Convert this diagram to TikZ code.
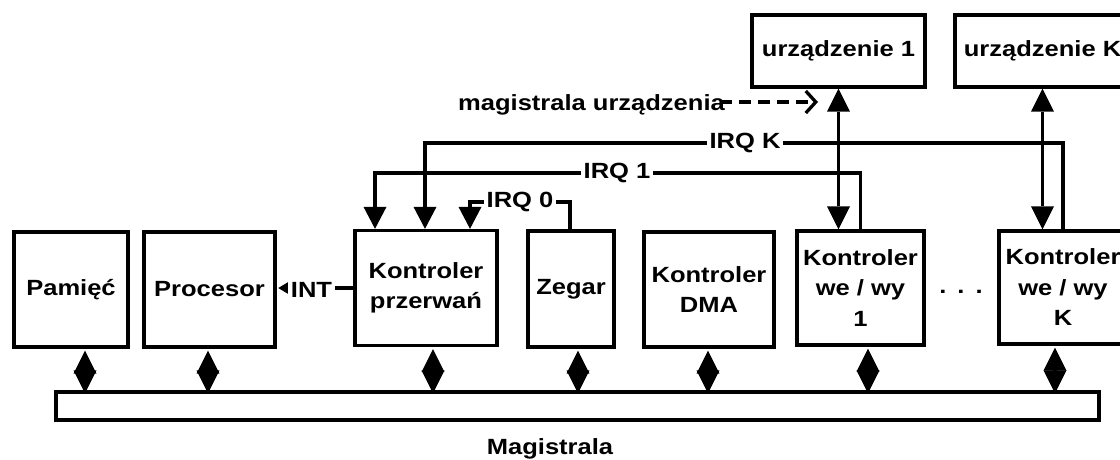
\documentclass[tikz,border=0pt]{standalone}
\usepackage{fontspec}
\setmainfont{Liberation Sans}[FakeStretch=1.16]
\usetikzlibrary{arrows.meta}
\begin{document}
\begin{tikzpicture}[x=1pt,y=-1pt,
  lw/.style={line width=3.3pt},
  txt/.style={font=\bfseries\fontsize{22}{30.5}\selectfont},
  box/.style={draw, lw, inner sep=0pt, align=center, txt},
  lbl/.style={fill=white, inner sep=3pt, txt},
  tri/.style={-{Triangle[length=22pt,width=23pt,line width=0pt]}},
  dbl/.style={{Triangle[length=23pt,width=23pt,line width=0pt]}-{Triangle[length=23pt,width=23pt,line width=0pt]}},
]
\useasboundingbox (0,0) rectangle (1120,459);
\clip (0,0) rectangle (1120,459);

% boxes
\node[box, minimum width=114pt, minimum height=115pt] (pam) at (71,289.5) {Pamięć};
\node[box, minimum width=131pt, minimum height=115pt] (proc) at (209.5,289.5) {Procesor};
\node[box, minimum width=142pt, minimum height=115pt] (prz) at (426,288) {Kontroler\\przerwań};
\node[box, minimum width=86pt, minimum height=116pt] (zeg) at (571,289) {Zegar};
\node[box, minimum width=130pt, minimum height=115pt] (dma) at (709,289.5) {Kontroler\\DMA};
\node[box, minimum width=127pt, minimum height=114pt] (io1) at (860.5,288) {Kontroler\\we / wy\\1};
\node[box, minimum width=128pt, minimum height=113pt] (ioK) at (1063,287.5) {Kontroler\\we / wy\\K};
\node[box, minimum width=173pt, minimum height=72pt] (dev1) at (838.5,51) {urządzenie 1};
\node[box, minimum width=175pt, minimum height=72pt] (devK) at (1042.5,51) {urządzenie K};
\node[draw, lw, minimum width=1043pt, minimum height=28pt, inner sep=0pt] (bus) at (577.5,406) {};
\node[txt, anchor=base, inner sep=0pt] (mag) at (550,454) {Magistrala};
\node[txt, inner sep=0pt] (dots) at (961,292) {.\hspace{11pt}.\hspace{11pt}.};

% bus connections
\foreach \n/\dx in {pam/14, proc/-1.5, prz/7, zeg/7, dma/-1, io1/7.5, ioK/-8}
  \draw[lw,dbl] ([xshift=\dx pt, yshift=-2pt]\n.south) -- ([xshift=\dx pt, yshift=-3pt]\n.south |- bus.north);

% device connections
\draw[lw,dbl] (dev1.south) -- (dev1.south |- io1.north);
\draw[lw,dbl] (devK.south) -- (devK.south |- ioK.north);

% interrupt lines
\coordinate (k0) at (470,202);
\coordinate (k1) at (375,173);
\coordinate (kK) at (425,143);
\draw[lw,tri] (ioK.north) |- (kK) -- (kK |- prz.north);
\draw[lw,tri] (io1.north) |- (k1) -- (k1 |- prz.north);
\draw[lw,tri] ([xshift=-1pt]zeg.north) |- (k0) -- (k0 |- prz.north);
\node[lbl] (lK) at (745,143) {IRQ K};
\node[lbl] (l1) at (617,173) {IRQ 1};
\node[lbl] (l0) at (520,202) {IRQ 0};

% INT
\draw[lw,-{Triangle[length=10pt,width=12pt,line width=0pt]}] (prz.west) -- ([xshift=1.6pt]prz.west -| proc.east);
\node[lbl] (int) at (311.5,290) {INT};

% device bus
\node[txt, anchor=base west, inner sep=0pt] (mu) at (458,110) {magistrala urządzenia};
\coordinate (mue) at (818,102);
\draw[lw, dash pattern=on 12pt off 7pt, -{Straight Barb[length=10pt,width=22pt]}] ([xshift=-5pt]mu.east |- mue) -- (mue);
\end{tikzpicture}
\end{document}
